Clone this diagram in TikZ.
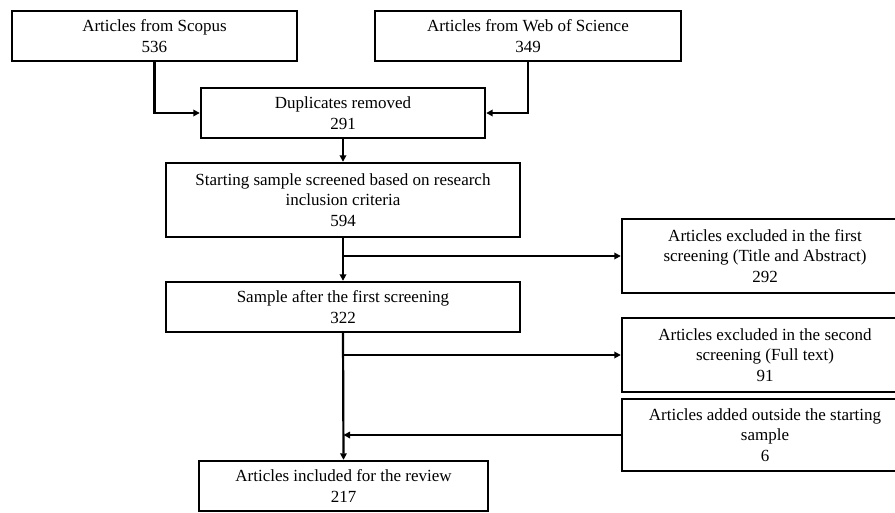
\documentclass[tikz,border=0pt]{standalone}
\usepackage{fontspec}
\setmainfont{Liberation Serif}
\usetikzlibrary{arrows.meta}
\begin{document}
\begin{tikzpicture}[x=1pt,y=-1pt,
  box/.style={draw=black, line width=2.4pt, fill=white, rectangle, inner sep=0pt,
    align=center, font=\fontsize{17pt}{20.5pt}\selectfont},
  arr/.style={draw=black, line width=2.2pt, -{Triangle[length=6.5pt,width=6.5pt]}}]
\useasboundingbox (0,0) rectangle (895,512);
\clip (0,0) rectangle (895,512);
\node[box, minimum width=285pt, minimum height=50pt] (scopus) at (154.5,36) {Articles from Scopus\\536};
\node[box, minimum width=306pt, minimum height=50pt] (wos) at (528,36) {Articles from Web of Science\\349};
\node[box, minimum width=284pt, minimum height=50pt] (dup) at (343,113) {Duplicates removed\\291};
\node[box, minimum width=354pt, minimum height=74pt] (start) at (343,200) {Starting sample screened based on research\\inclusion criteria\\594};
\node[box, minimum width=354pt, minimum height=50pt] (sample) at (343,307) {Sample after the first screening\\322};
\node[box, minimum width=286pt, minimum height=74pt] (ex1) at (765,256) {Articles excluded in the first\\screening (Title and Abstract)\\292};
\node[box, minimum width=286pt, minimum height=74pt] (ex2) at (765,355) {Articles excluded in the second\\screening (Full text)\\91};
\node[box, minimum width=286pt, minimum height=72pt] (add) at (765,435) {Articles added outside the starting\\sample\\6};
\node[box, minimum width=289pt, minimum height=50pt] (final) at (343.5,486) {Articles included for the review\\217};
\draw[arr] (scopus.south) |- (dup.west);
\draw[arr] (wos.south) |- (dup.east);
\draw[arr] (dup.south) -- (start.north);
\draw[arr] (start.south) -- (sample.north);
\coordinate (b1) at (start.south |- ex1.west);
\draw[arr] (b1) -- (ex1.west);
\draw[arr] (sample.south) -- (final.north);
\coordinate (b2) at (sample.south |- ex2.west);
\draw[arr] (b2) -- (ex2.west);
\coordinate (b3) at (final.north |- add.west);
\draw[arr] (add.west) -- (b3);
\end{tikzpicture}
\end{document}
